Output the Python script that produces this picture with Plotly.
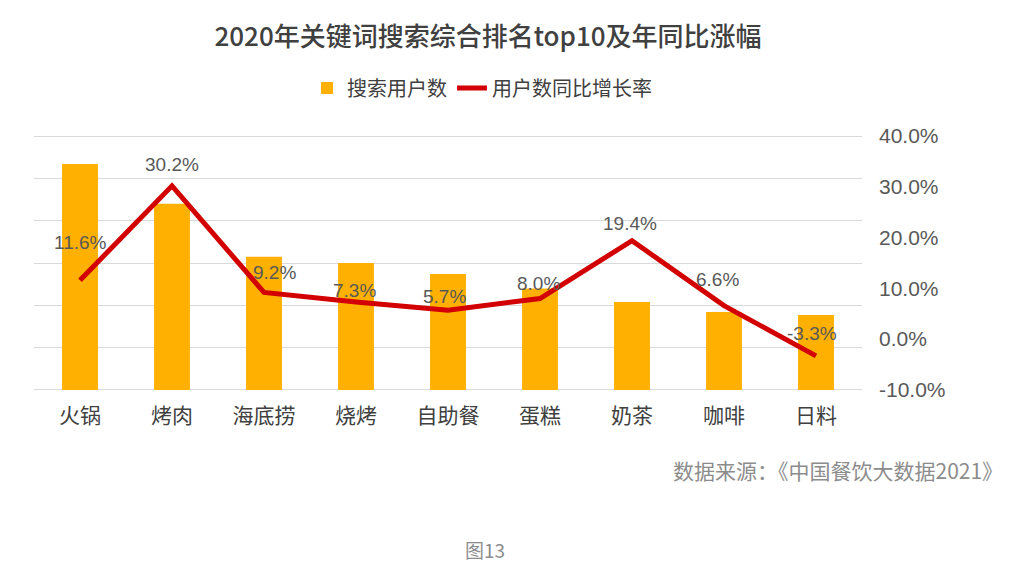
import plotly.graph_objects as go

categories = ["火锅", "烤肉", "海底捞", "烧烤", "自助餐", "蛋糕", "奶茶", "咖啡", "日料"]
search_users = [5.34, 4.40, 3.15, 3.00, 2.74, 2.40, 2.08, 1.84, 1.77]
yoy_growth = [11.6, 30.2, 9.2, 7.3, 5.7, 8.0, 19.4, 6.6, -3.3]
right_ticks = [-10, 0, 10, 20, 30, 40]

# label offsets (px) for the data labels: (xshift, yshift)
label_shifts = [(0, 38), (0, 21), (10, 20), (-2, 12), (-4, 14), (-2, 15), (-2, 17), (-7, 26), (-4, 22)]

FONT = "Liberation Sans, Noto Sans CJK SC, sans-serif"
CJK = "Noto Sans CJK SC"

fig = go.Figure()
fig.add_trace(go.Bar(
    x=categories, y=search_users, name="搜索用户数",
    marker=dict(color="#FFB000", line=dict(width=0)),
    yaxis="y",
))
fig.add_trace(go.Scatter(
    x=categories, y=yoy_growth, name="用户数同比增长率",
    mode="lines", line=dict(color="#D20000", width=5),
    yaxis="y2",
))

annotations = []
for c, v, (dx, dy) in zip(categories, yoy_growth, label_shifts):
    annotations.append(dict(
        x=c, y=v, xref="x", yref="y2", text=f"{v:.1f}%", showarrow=False,
        xshift=dx, yshift=dy, font=dict(size=19, color="#595959", family=FONT),
        xanchor="center", yanchor="middle",
    ))

# plot area: x 34..862, y 134..392 (0 -> 390, 6 -> 136)
annotations.append(dict(
    text="数据来源：《中国餐饮大数据2021》", xref="paper", yref="paper",
    x=(1005 - 34) / 828, y=-(470 - 392) / 258, xanchor="right", yanchor="middle",
    showarrow=False, font=dict(size=21, color="#8C8C8C", family=CJK),
))
annotations.append(dict(
    text="图13", xref="paper", yref="paper",
    x=(485 - 34) / 828, y=-(549 - 392) / 258, xanchor="center", yanchor="middle",
    showarrow=False, font=dict(size=19, color="#8C8C8C", family=CJK),
))

eps = 0.05
fig.update_layout(
    width=1025, height=567,
    margin=dict(l=34, r=163, t=134, b=175),
    paper_bgcolor="white", plot_bgcolor="white",
    font=dict(family=FONT, color="#404040"),
    title=dict(
        text="2020年关键词搜索综合排名top10及年同比涨幅",
        x=488 / 1025, xref="container", xanchor="center",
        y=1 - 37 / 567, yref="container", yanchor="middle",
        font=dict(size=26, color="#404040", family=CJK, weight=500),
    ),
    legend=dict(
        orientation="h", x=482 / 1025, xref="container", xanchor="center",
        y=1 - 88 / 567, yref="container", yanchor="middle",
        font=dict(size=20, color="#404040", family=CJK),
        itemwidth=30, traceorder="normal",
    ),
    bargap=0.61,
    showlegend=True,
    xaxis=dict(
        showgrid=False, showline=False, ticks="",
        tickfont=dict(size=21, color="#404040", family=CJK),
        ticklabelstandoff=9,
    ),
    yaxis=dict(
        range=[-eps, 6 + eps], tickvals=[0, 1, 2, 3, 4, 5, 6], showticklabels=False, showgrid=True,
        gridcolor="#D9D9D9", gridwidth=1, zeroline=False, ticks="",
    ),
    yaxis2=dict(
        range=[-10 - eps * 50 / 6, 40 + eps * 50 / 6], tickvals=right_ticks,
        ticktext=[f"{t:.1f}%" for t in right_ticks],
        overlaying="y", side="right", showgrid=False, zeroline=False, ticks="",
        tickfont=dict(size=21, color="#595959", family=FONT),
        ticklabelstandoff=16,
    ),
    annotations=annotations,
)

fig.write_html("out.html", config={"displayModeBar": False},
               post_script="document.body.style.margin='0';")
